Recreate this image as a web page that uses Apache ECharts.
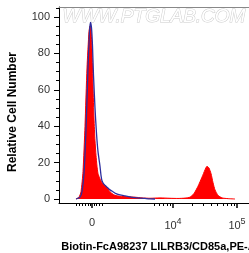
<!DOCTYPE html>
<html>
<head>
<meta charset="utf-8">
<style>
  html, body { margin: 0; padding: 0; background: #ffffff; }
  #chart { width: 249px; height: 253px; }
</style>
<script src="https://cdn.jsdelivr.net/npm/echarts@6/dist/echarts.min.js"></script>
</head>
<body>
<div id="chart"></div>
<script>
// x values are display positions on the logicle axis (0 = zero, 81 = 10^4, 145 = 10^5)

// ── Data ───────────────────────────────────────────────────────────────────

var sampleX = [-16, -13, -11, -9, -7, -5, -3, -2, -1, 0, 1, 2, 3, 4, 5, 6, 8, 10, 12, 14, 16, 18, 20, 23,
               28, 36, 43, 50, 58, 68, 78, 86, 93, 98, 102, 106, 110, 113, 115, 117, 119, 121, 123, 126, 130, 136, 143];
var sampleY = [0, 1, 4, 15, 40, 72, 92, 95, 93, 82, 62, 44, 32, 24, 18, 14, 11, 9, 8, 7, 5.5, 4, 3, 2,
               1.5, 1.2, 1, 0.6, 0.4, 0.6, 0.4, 0.3, 0.5, 1, 3, 7, 12, 16, 18, 17, 14, 9, 5, 2, 0.6, 0.2, 0];

var controlX = [-16, -12, -10, -8, -6, -4, -2.5, -1.5, -0.5, 0.5, 1.5, 3, 4.5, 6, 8, 9, 10, 12, 14, 16, 18,
                21, 24, 28, 33, 38, 43, 48, 53, 58, 63];
var controlY = [0, 1, 4, 14, 38, 72, 92, 97, 94, 84, 68, 50, 36, 26, 18, 13, 10, 8, 7, 6, 5,
                4, 3, 2.2, 1.7, 1.2, 0.8, 0.5, 0.3, 0.1, 0];

var majorTicks = [0, 81, 145];
var minorTicks = [-16, -13, -10, -7, -4, -2, 2, 4, 7, 10,
                  62, 67, 71, 75, 78,
                  100, 111.5, 119.5, 125.7, 130.8, 135, 138.8, 142];
var yTicks = [0, 20, 40, 60, 80, 100];
var yMinorTicks = [5, 10, 15, 25, 30, 35, 45, 50, 55, 65, 70, 75, 85, 90, 95, 105];

var xLabels = { 0: '0', 81: '{b|10}{s|4}', 145: '{b|10}{s|5}' };

function pairs(xs, ys) {
  return xs.map(function (x, i) { return [x, ys[i]]; });
}

// ── Chart ──────────────────────────────────────────────────────────────────

var chart = echarts.init(document.getElementById('chart'), null, { renderer: 'canvas' });

var font = 'Liberation Sans, Arial, sans-serif';
var X_MIN = -33, X_MAX = 157;
var Y_MIN = -2.2, Y_MAX = 105.5;

chart.setOption({
  backgroundColor: '#ffffff',
  animation: false,
  grid: { left: 59, right: 0, top: 7, bottom: 50, containLabel: false, outerBoundsMode: 'none' },
  graphic: [{
    type: 'text',
    left: 62,
    top: 7,
    z: 0,
    style: {
      text: 'WWW.PTGLAB.COM',
      font: 'italic 19px ' + font,
      fill: '#ffffff',
      stroke: '#cccccc',
      lineWidth: 1
    }
  }],
  xAxis: [{
    type: 'value',
    min: X_MIN,
    max: X_MAX,
    position: 'bottom',
    name: 'Biotin-FcA98237 LILRB3/CD85a,PE-A',
    nameLocation: 'middle',
    nameGap: 38,
    nameTextStyle: { color: '#000', fontFamily: font, fontWeight: 'bold', fontSize: 11, padding: [0, 0, 0, 9] },
    splitLine: { show: false },
    axisLine: { show: true, onZero: false, lineStyle: { color: '#000', width: 1 } },
    axisTick: { show: true, length: 5, customValues: majorTicks, lineStyle: { color: '#000', width: 1.5 } },
    axisLabel: {
      show: true,
      customValues: majorTicks,
      margin: 14,
      color: '#333',
      fontFamily: font,
      fontSize: 11,
      formatter: function (v) { return xLabels[v] || ''; },
      rich: {
        b: { fontSize: 11, fontFamily: font, color: '#333' },
        s: { fontSize: 9, fontFamily: font, color: '#333', padding: [0, 0, 8, 0] }
      }
    }
  }, {
    type: 'value',
    min: X_MIN,
    max: X_MAX,
    position: 'bottom',
    splitLine: { show: false },
    axisLine: { show: false, onZero: false },
    axisTick: { show: true, length: 3, customValues: minorTicks, lineStyle: { color: '#000', width: 1 } },
    axisLabel: { show: false }
  }, {
    type: 'value',
    min: X_MIN,
    max: X_MAX,
    position: 'top',
    splitLine: { show: false },
    axisLine: { show: true, onZero: false, lineStyle: { color: '#888', width: 1 } },
    axisTick: { show: false },
    axisLabel: { show: false }
  }],
  yAxis: [{
    type: 'value',
    min: Y_MIN,
    max: Y_MAX,
    position: 'left',
    name: 'Relative Cell Number',
    nameLocation: 'middle',
    nameGap: 40,
    nameTextStyle: { color: '#000', fontFamily: font, fontWeight: 'bold', fontSize: 12, padding: [0, 14, 0, 0] },
    splitLine: { show: false },
    axisLine: { show: true, onZero: false, lineStyle: { color: '#000', width: 1 } },
    axisTick: { show: true, length: 5, customValues: yTicks, lineStyle: { color: '#000' } },
    axisLabel: { show: true, customValues: yTicks, margin: 9, color: '#333', fontFamily: font, fontSize: 11 }
  }, {
    type: 'value',
    min: Y_MIN,
    max: Y_MAX,
    position: 'left',
    splitLine: { show: false },
    axisLine: { show: false, onZero: false },
    axisTick: { show: true, length: 3, customValues: yMinorTicks, lineStyle: { color: '#000' } },
    axisLabel: { show: false }
  }],
  series: [{
    name: 'LILRB3',
    type: 'line',
    data: pairs(sampleX, sampleY),
    smooth: 0.2,
    symbol: 'none',
    lineStyle: { color: '#ff0000', width: 1 },
    areaStyle: { color: '#ff0000', opacity: 1 },
    z: 2
  }, {
    name: 'Control',
    type: 'line',
    data: pairs(controlX, controlY),
    smooth: 0.2,
    symbol: 'none',
    lineStyle: { color: '#2e2e9e', width: 1.3 },
    z: 3
  }]
});
</script>
</body>
</html>
